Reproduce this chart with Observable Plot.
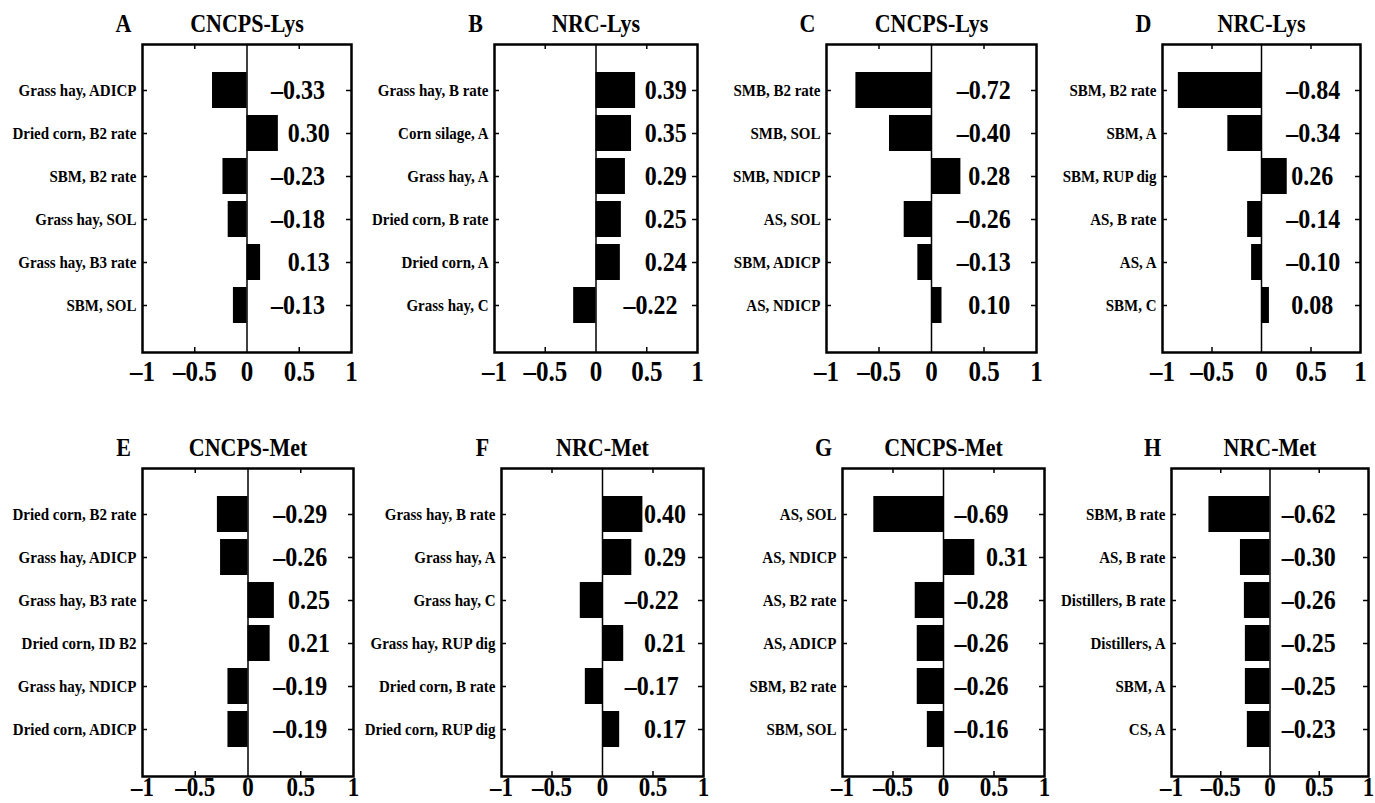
<!DOCTYPE html>
<html><head><meta charset="utf-8">
<script src="https://cdn.jsdelivr.net/npm/d3@7"></script>
<script src="https://cdn.jsdelivr.net/npm/@observablehq/plot@0.6"></script>
<style>
html,body{margin:0;padding:0;background:#fff;overflow:hidden;}
#root{position:relative;width:1375px;height:803px;background:#fff;}
#root svg{position:absolute;}
</style></head><body><div id="root"></div>
<script>
// ---------- data ----------
const letters = ["A", "B", "C", "D", "E", "F", "G", "H"];
const titles = ["CNCPS-Lys", "NRC-Lys", "CNCPS-Lys", "NRC-Lys", "CNCPS-Met", "NRC-Met", "CNCPS-Met", "NRC-Met"];

const labelsA = ["Grass hay, ADICP", "Dried corn, B2 rate", "SBM, B2 rate", "Grass hay, SOL", "Grass hay, B3 rate", "SBM, SOL"];
const valuesA = [-0.33, 0.30, -0.23, -0.18, 0.13, -0.13];

const labelsB = ["Grass hay, B rate", "Corn silage, A", "Grass hay, A", "Dried corn, B rate", "Dried corn, A", "Grass hay, C"];
const valuesB = [0.39, 0.35, 0.29, 0.25, 0.24, -0.22];

const labelsC = ["SMB, B2 rate", "SMB, SOL", "SMB, NDICP", "AS, SOL", "SBM, ADICP", "AS, NDICP"];
const valuesC = [-0.72, -0.40, 0.28, -0.26, -0.13, 0.10];

const labelsD = ["SBM, B2 rate", "SBM, A", "SBM, RUP dig", "AS, B rate", "AS, A", "SBM, C"];
const valuesD = [-0.84, -0.34, 0.26, -0.14, -0.10, 0.08];

const labelsE = ["Dried corn, B2 rate", "Grass hay, ADICP", "Grass hay, B3 rate", "Dried corn, ID B2", "Grass hay, NDICP", "Dried corn, ADICP"];
const valuesE = [-0.29, -0.26, 0.25, 0.21, -0.19, -0.19];

const labelsF = ["Grass hay, B rate", "Grass hay, A", "Grass hay, C", "Grass hay, RUP dig", "Dried corn, B rate", "Dried corn, RUP dig"];
const valuesF = [0.40, 0.29, -0.22, 0.21, -0.17, 0.17];

const labelsG = ["AS, SOL", "AS, NDICP", "AS, B2 rate", "AS, ADICP", "SBM, B2 rate", "SBM, SOL"];
const valuesG = [-0.69, 0.31, -0.28, -0.26, -0.26, -0.16];

const labelsH = ["SBM, B rate", "AS, B rate", "Distillers, B rate", "Distillers, A", "SBM, A", "CS, A"];
const valuesH = [-0.62, -0.30, -0.26, -0.25, -0.25, -0.23];

const xTicks = [-1, -0.5, 0, 0.5, 1];
const innerTicks = [-0.5, 0.5];

const panelLabels = [labelsA, labelsB, labelsC, labelsD, labelsE, labelsF, labelsG, labelsH];
const panelValues = [valuesA, valuesB, valuesC, valuesD, valuesE, valuesF, valuesG, valuesH];

// ---------- layout ----------
const layout = [
  {left: 142, right: 351, top: 44, pad: 8, tickFont: 25, negX: 0.23, posX: 0.39},
  {left: 494, right: 697, top: 44, pad: 8, tickFont: 25, negX: 0.27, posX: 0.48},
  {left: 826, right: 1036, top: 44, pad: 8, tickFont: 25, negX: 0.24, posX: 0.35},
  {left: 1162, right: 1360, top: 44, pad: 8, tickFont: 25, negX: 0.25, posX: 0.30},
  {left: 142, right: 353, top: 468, pad: 1, tickFont: 23, negX: 0.24, posX: 0.38},
  {left: 501, right: 703, top: 468, pad: 1, tickFont: 23, negX: 0.22, posX: 0.41},
  {left: 842, right: 1044, top: 468, pad: 1, tickFont: 23, negX: 0.11, posX: 0.42},
  {left: 1171, right: 1368, top: 468, pad: 1, tickFont: 23, negX: 0.12, posX: 0.40}
];
const frameH = 308;
const mL = 150, mR = 12, mT = 46, mB = 34;
const tickLen = 5;
const stretch = 1.15;

const fmtVal = v => (v < 0 ? "\u2013" : "") + Math.abs(v).toFixed(2);
const fmtTick = d => (d < 0 ? "\u2013" : "") + Math.abs(d);

const root = document.getElementById("root");

panelLabels.forEach((labels, p) => {
  const L = layout[p];
  const frameW = L.right - L.left;
  const rows = labels.map((label, i) => ({label, value: panelValues[p][i]}));
  const chart = Plot.plot({
    width: mL + frameW + mR,
    height: mT + frameH + mB,
    marginLeft: mL, marginRight: mR, marginTop: mT, marginBottom: mB,
    style: {fontFamily: '"Liberation Serif", "Times New Roman", serif', fontWeight: "bold", color: "black", background: "transparent", overflow: "visible"},
    x: {domain: [-1, 1]},
    y: {domain: labels, paddingInner: 0.16, paddingOuter: 0.61},
    marks: [
      Plot.barX(rows, {x: "value", y: "label", fill: "black"}),
      Plot.ruleX([0], {stroke: "black", strokeWidth: 1.5}),
      Plot.ruleX(innerTicks, {stroke: "black", strokeWidth: 1.5, insetBottom: frameH - tickLen}),
      Plot.ruleX(innerTicks, {stroke: "black", strokeWidth: 1.5, insetTop: frameH - tickLen}),
      Plot.ruleY(labels, {y: d => d, stroke: "black", strokeWidth: 1.5, insetRight: frameW - tickLen}),
      Plot.ruleY(labels, {y: d => d, stroke: "black", strokeWidth: 1.5, insetLeft: frameW - tickLen}),
      Plot.frame({stroke: "black", strokeWidth: 2.5}),
      Plot.axisY({anchor: "left", tickSize: 0, tickPadding: 6, fontSize: 15, label: null}),
      Plot.axisX({anchor: "bottom", ticks: xTicks, tickSize: 0, tickPadding: L.pad, tickFormat: fmtTick, fontSize: L.tickFont, label: null}),
      Plot.text(rows, {x: d => d.value < 0 ? L.negX : L.posX, y: "label", text: d => fmtVal(d.value), textAnchor: "start", fontSize: 24}),
      Plot.text([titles[p]], {frameAnchor: "top", dy: -13, lineAnchor: "bottom", fontSize: 22}),
      Plot.text([letters[p]], {frameAnchor: "top-left", dx: -19, dy: -13, lineAnchor: "bottom", textAnchor: "middle", fontSize: 22})
    ]
  });
  // slight vertical stretch of glyphs, as in the reference typesetting
  chart.querySelectorAll("text").forEach(t => {
    const tr = t.getAttribute("transform");
    if (tr && tr.includes("translate")) t.setAttribute("transform", tr + ` scale(1,${stretch})`);
  });
  chart.style.left = (L.left - mL) + "px";
  chart.style.top = (L.top - mT) + "px";
  root.appendChild(chart);
});
</script>
</body></html>
